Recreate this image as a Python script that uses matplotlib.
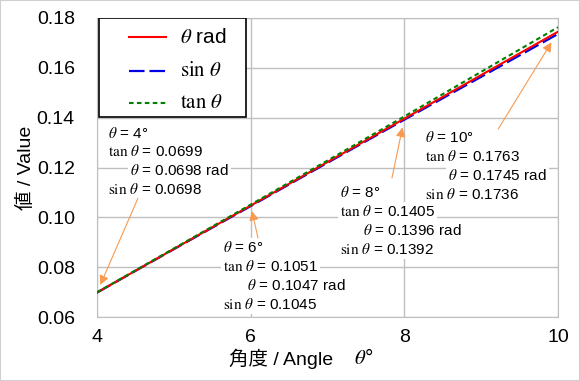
import matplotlib
matplotlib.use("Agg")
import matplotlib.pyplot as plt
from matplotlib.patches import Rectangle

plt.rcParams["mathtext.fontset"] = "stix"
plt.rcParams["font.family"] = ["Liberation Sans", "Noto Sans CJK JP"]

# data
deg = [4, 5, 6, 7, 8, 9, 10]
rad = [0.0698, 0.0873, 0.1047, 0.1222, 0.1396, 0.1571, 0.1745]
sin_v = [0.0698, 0.0872, 0.1045, 0.1219, 0.1392, 0.1564, 0.1736]
tan_v = [0.0699, 0.0875, 0.1051, 0.1228, 0.1405, 0.1584, 0.1763]

note_deg = [4, 6, 8, 10]
note_tan = ["0.0699", "0.1051", "0.1405", "0.1763"]
note_rad = ["0.0698", "0.1047", "0.1396", "0.1745"]
note_sin = ["0.0698", "0.1045", "0.1392", "0.1736"]

xticks = [4, 6, 8, 10]
yticks = [0.06, 0.08, 0.10, 0.12, 0.14, 0.16, 0.18]

W, H = 580, 381
L, R, T, B = 97, 558, 18, 317


def px(x, y):
    # pixel -> data coords
    return 4 + (x - L) / (R - L) * 6, 0.06 + (B - y) / (B - T) * 0.12


fig = plt.figure(figsize=(W / 100, H / 100), dpi=100)
fig.patches.append(Rectangle((0, 0), 1, 1, transform=fig.transFigure,
                             fill=False, edgecolor="#D0D0D0", lw=1.5))
ax = fig.add_axes([L / W, 1 - B / H, (R - L) / W, (B - T) / H])
ax.set_xlim(4, 10)
ax.set_ylim(0.06, 0.18)
ax.set_xticks(xticks)
ax.set_yticks(yticks)
ax.set_xticklabels([str(v) for v in xticks])
ax.set_yticklabels(["%.2f" % v for v in yticks])
ax.tick_params(length=0, labelsize=14, colors="black")
ax.tick_params(axis="y", pad=16)
ax.tick_params(axis="x", pad=9)
ax.grid(True, color="#BFBFBF", lw=1)
ax.set_axisbelow(True)
for s in ax.spines.values():
    s.set_color("#BFBFBF")

ln_blue = dict(color="#0000E6", lw=1.6, dashes=(7, 2.2))
ln_red = dict(color="#FF0000", lw=1.5)
ln_green = dict(color="#008000", lw=1.5, dashes=(2.2, 1.6))
ax.plot(deg, sin_v, **ln_blue, zorder=3)
ax.plot(deg, rad, **ln_red, zorder=4)
ax.plot(deg, tan_v, **ln_green, zorder=5)

# legend drawn by hand to match the spacing
ax.add_patch(Rectangle((0.004, 0.669), 0.319, 0.331, transform=ax.transAxes,
                       facecolor="white", edgecolor="black", lw=1.2, zorder=6))
leg_y = [0.936, 0.823, 0.716]
leg_lab = [r"$\theta$ rad", r"$\mathrm{sin}\ \theta$", r"$\mathrm{tan}\ \theta$"]
for yy, lab, st in zip(leg_y, leg_lab, [ln_red, ln_blue, ln_green]):
    ax.plot([0.069, 0.150], [yy, yy], transform=ax.transAxes, zorder=7, **st)
    ax.text(0.18, yy, lab, transform=ax.transAxes, fontsize=15, va="center",
            zorder=7)

# annotation blocks (left pixel, first line centre, indent of rad line)
blocks = [(108, 133, 130), (223, 248, 247), (340, 193, 363), (425, 138, 448)]
arrows = [((29.5, 68), 6), ((5.3, -23.3), 4), ((-8.9, -42.7), 6.5),
          ((-43, -70), 9)]
step = 18.7
bb = dict(facecolor="white", edgecolor="none", pad=1.5)
for i, d in enumerate(note_deg):
    x0, y0, xi = blocks[i]
    lines = [(x0, r"$\theta$ = %d°" % d),
             (x0, r"$\mathrm{tan}\ \theta$ = " + note_tan[i]),
             (xi, r"$\theta$ = " + note_rad[i] + " rad"),
             (x0, r"$\mathrm{sin}\ \theta$ = " + note_sin[i])]
    for k, (xx, s) in enumerate(lines):
        ax.text(*px(xx, y0 + k * step), s, fontsize=11, va="center",
                ha="left", bbox=bb, zorder=8)
    off, gap = arrows[i]
    ax.annotate("", xy=(d, rad[deg.index(d)]), xytext=off,
                textcoords="offset points",
                arrowprops=dict(arrowstyle="-|>,head_length=0.55,head_width=0.28",
                                color="#F89A50", lw=0.8, shrinkA=0, shrinkB=gap),
                zorder=9)

ax.set_xlabel("角度 / Angle", fontsize=14)
ax.xaxis.set_label_coords(0.399, -0.105)
ax.text(0.557, -0.137, r"$\theta$°", transform=ax.transAxes, fontsize=15,
        va="center", ha="left")
ax.set_ylabel("値 / Value", fontsize=14)
ax.yaxis.set_label_coords(-0.135, 0.5)

fig.savefig("out.png", dpi=100)
